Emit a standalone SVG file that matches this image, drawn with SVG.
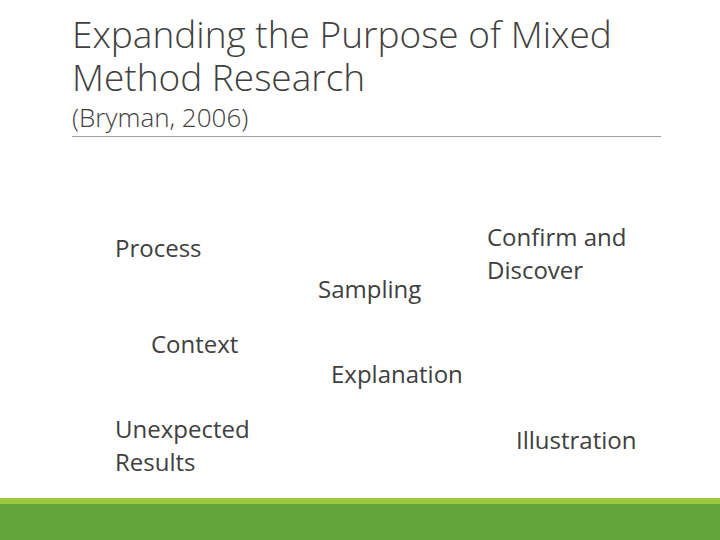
<svg xmlns="http://www.w3.org/2000/svg" width="720" height="540" viewBox="0 0 720 540">
<style>
text{font-family:"Open Sans","Noto Sans","Liberation Sans",sans-serif;fill:#404040}
.t{font-size:37px;font-weight:300}
.b{font-size:24px}
</style>
<rect width="720" height="540" fill="#fff"/>
<text class="t" x="72" y="48">Expanding the Purpose of Mixed</text>
<text class="t" x="72" y="91">Method Research</text>
<text x="72" y="127" font-size="26" font-weight="300">(Bryman, 2006)</text>
<line x1="72" y1="136.5" x2="661" y2="136.5" stroke="#a0a0a0" stroke-width="1"/>
<g id="process"><text class="b" x="115" y="257">Process</text></g>
<g id="sampling"><text class="b" x="318" y="298">Sampling</text></g>
<g id="confirm"><text class="b" x="487" y="246">Confirm and</text><text class="b" x="487" y="279">Discover</text></g>
<g id="context"><text class="b" x="151" y="353">Context</text></g>
<g id="explanation"><text class="b" x="331" y="383">Explanation</text></g>
<g id="unexpected"><text class="b" x="115" y="438">Unexpected</text><text class="b" x="115" y="471">Results</text></g>
<g id="illustration"><text class="b" x="516" y="449">Illustration</text></g>
<g id="connectors"/>
<rect x="0" y="498" width="720" height="6" fill="#9dc83f"/>
<rect x="0" y="504" width="720" height="36" fill="#62a63a"/>
</svg>
